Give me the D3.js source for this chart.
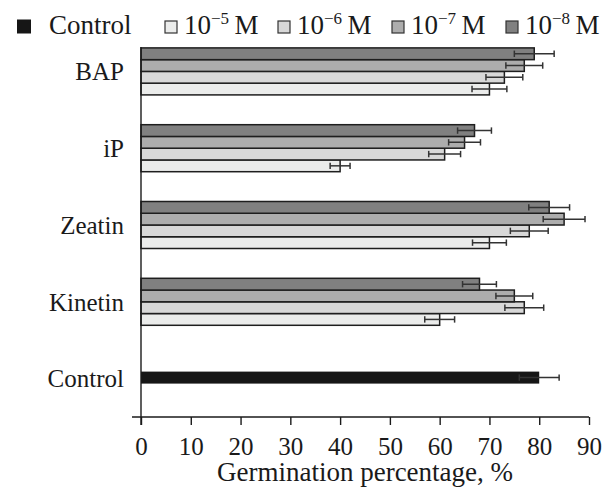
<!DOCTYPE html>
<html>
<head>
<meta charset="utf-8">
<script src="https://cdn.jsdelivr.net/npm/d3@7"></script>
</head>
<body style="margin:0; background:#fff">
<svg id="chart" width="614" height="492"></svg>
<script>
// Data (germination percentage, %)
const categories = ["BAP", "iP", "Zeatin", "Kinetin", "Control"];
const concentrations = ["-5", "-6", "-7", "-8"];
const bapValues = [70, 73, 77, 79];
const bapErrors = [3.5, 3.7, 3.7, 4.0];
const ipValues = [40, 61, 65, 67];
const ipErrors = [2.0, 3.2, 3.2, 3.4];
const zeatinValues = [70, 78, 85, 82];
const zeatinErrors = [3.4, 3.8, 4.2, 4.1];
const kinetinValues = [60, 77, 75, 68];
const kinetinErrors = [3.0, 3.9, 3.7, 3.4];
const controlValue = 80;
const controlError = 4;
const xTicks = [0, 10, 20, 30, 40, 50, 60, 70, 80, 90];

const colors = {"-5": "#ebeceb", "-6": "#d8d8d8", "-7": "#adadad", "-8": "#808080", control: "#161616"};
const edge = "#1e1e1e";
const ink = "#1a1a1a";
const serif = "Liberation Serif";

const treated = [
  {name: "BAP", values: bapValues, errors: bapErrors},
  {name: "iP", values: ipValues, errors: ipErrors},
  {name: "Zeatin", values: zeatinValues, errors: zeatinErrors},
  {name: "Kinetin", values: kinetinValues, errors: kinetinErrors},
];

const plot = {left: 141, right: 589, top: 33, bottom: 417, axisY: 417};

const svg = d3.select("#chart").attr("font-family", serif);

const x = d3.scaleLinear().domain([0, 90]).range([plot.left, plot.right]);
const y = d3.scaleBand().domain(categories).range([plot.top, plot.bottom]);
// top to bottom: 10^-8 ... 10^-5
const yInner = d3.scaleBand().domain([...concentrations].reverse()).range([-23.5, 23.5]);

const bars = svg.append("g");
const errs = svg.append("g").attr("stroke", "#333").attr("stroke-width", 1.5);

function errorBar(g, cy, mean, err) {
  const lo = x(mean - err), hi = x(mean + err);
  g.append("line").attr("x1", lo).attr("x2", hi).attr("y1", cy).attr("y2", cy);
  g.append("line").attr("x1", lo).attr("x2", lo).attr("y1", cy - 3.2).attr("y2", cy + 3.2);
  g.append("line").attr("x1", hi).attr("x2", hi).attr("y1", cy - 3.2).attr("y2", cy + 3.2);
}

treated.forEach(group => {
  const c = y(group.name) + y.bandwidth() / 2;
  concentrations.forEach((conc, i) => {
    const top = c + yInner(conc);
    bars.append("rect")
      .attr("x", x(0))
      .attr("y", top)
      .attr("width", x(group.values[i]) - x(0))
      .attr("height", yInner.bandwidth())
      .attr("fill", colors[conc])
      .attr("stroke", edge)
      .attr("stroke-width", 1.5);
    errorBar(errs, top + yInner.bandwidth() / 2, group.values[i], group.errors[i]);
  });
});

// Control bar
const cc = y("Control") + y.bandwidth() / 2 - 1;
bars.append("rect")
  .attr("x", x(0))
  .attr("y", cc - 6)
  .attr("width", x(controlValue) - x(0))
  .attr("height", 12)
  .attr("fill", colors.control);
errorBar(errs, cc, controlValue, controlError);

// Category labels
svg.append("g")
  .selectAll("text")
  .data(categories)
  .join("text")
  .attr("x", 124)
  .attr("y", d => y(d) + y.bandwidth() / 2)
  .attr("dy", "0.35em")
  .attr("text-anchor", "end")
  .attr("font-size", 25)
  .attr("fill", ink)
  .style("font-family", serif)
  .text(d => d);

// Y axis line
svg.append("line")
  .attr("x1", plot.left).attr("x2", plot.left)
  .attr("y1", 47).attr("y2", plot.axisY + 8)
  .attr("stroke", ink).attr("stroke-width", 1.4);

// X axis
const xAxis = d3.axisBottom(x).tickValues(xTicks).tickSize(8).tickSizeOuter(0).tickPadding(12);
const gx = svg.append("g")
  .attr("transform", `translate(0,${plot.axisY})`)
  .call(xAxis)
  .attr("font-family", serif);
gx.select(".domain").remove();
gx.append("line")
  .attr("x1", plot.left - 9).attr("x2", plot.right)
  .attr("stroke", ink).attr("stroke-width", 1.4);
gx.selectAll(".tick line").attr("stroke", ink).attr("stroke-width", 1.4);
gx.selectAll(".tick text")
  .attr("font-size", 25)
  .attr("fill", ink)
  .style("font-family", serif);

svg.append("text")
  .attr("x", (plot.left + plot.right) / 2)
  .attr("y", 481)
  .attr("text-anchor", "middle")
  .attr("font-size", 27)
  .attr("fill", ink)
  .style("font-family", serif)
  .text("Germination percentage, %");

// Legend
const legend = svg.append("g");
legend.append("rect")
  .attr("x", 17).attr("y", 19.5).attr("width", 14).attr("height", 14)
  .attr("fill", colors.control);
legend.append("text")
  .attr("x", 49).attr("y", 33.5)
  .attr("font-size", 27).attr("fill", ink)
  .style("font-family", serif)
  .text("Control");

const legendX = [165, 278, 392, 506];
concentrations.forEach((conc, i) => {
  legend.append("rect")
    .attr("x", legendX[i]).attr("y", 21).attr("width", 12).attr("height", 12)
    .attr("fill", colors[conc]).attr("stroke", "#333").attr("stroke-width", 1.2);
  const t = legend.append("text")
    .attr("x", legendX[i] + 19).attr("y", 33.5)
    .attr("font-size", 27).attr("fill", ink)
    .style("font-family", serif);
  t.append("tspan").text("10");
  t.append("tspan").attr("dy", -10).attr("font-size", 17).text("\u2212" + conc.slice(1));
  t.append("tspan").attr("dy", 10).text("\u2009M");
});
</script>
</body>
</html>
